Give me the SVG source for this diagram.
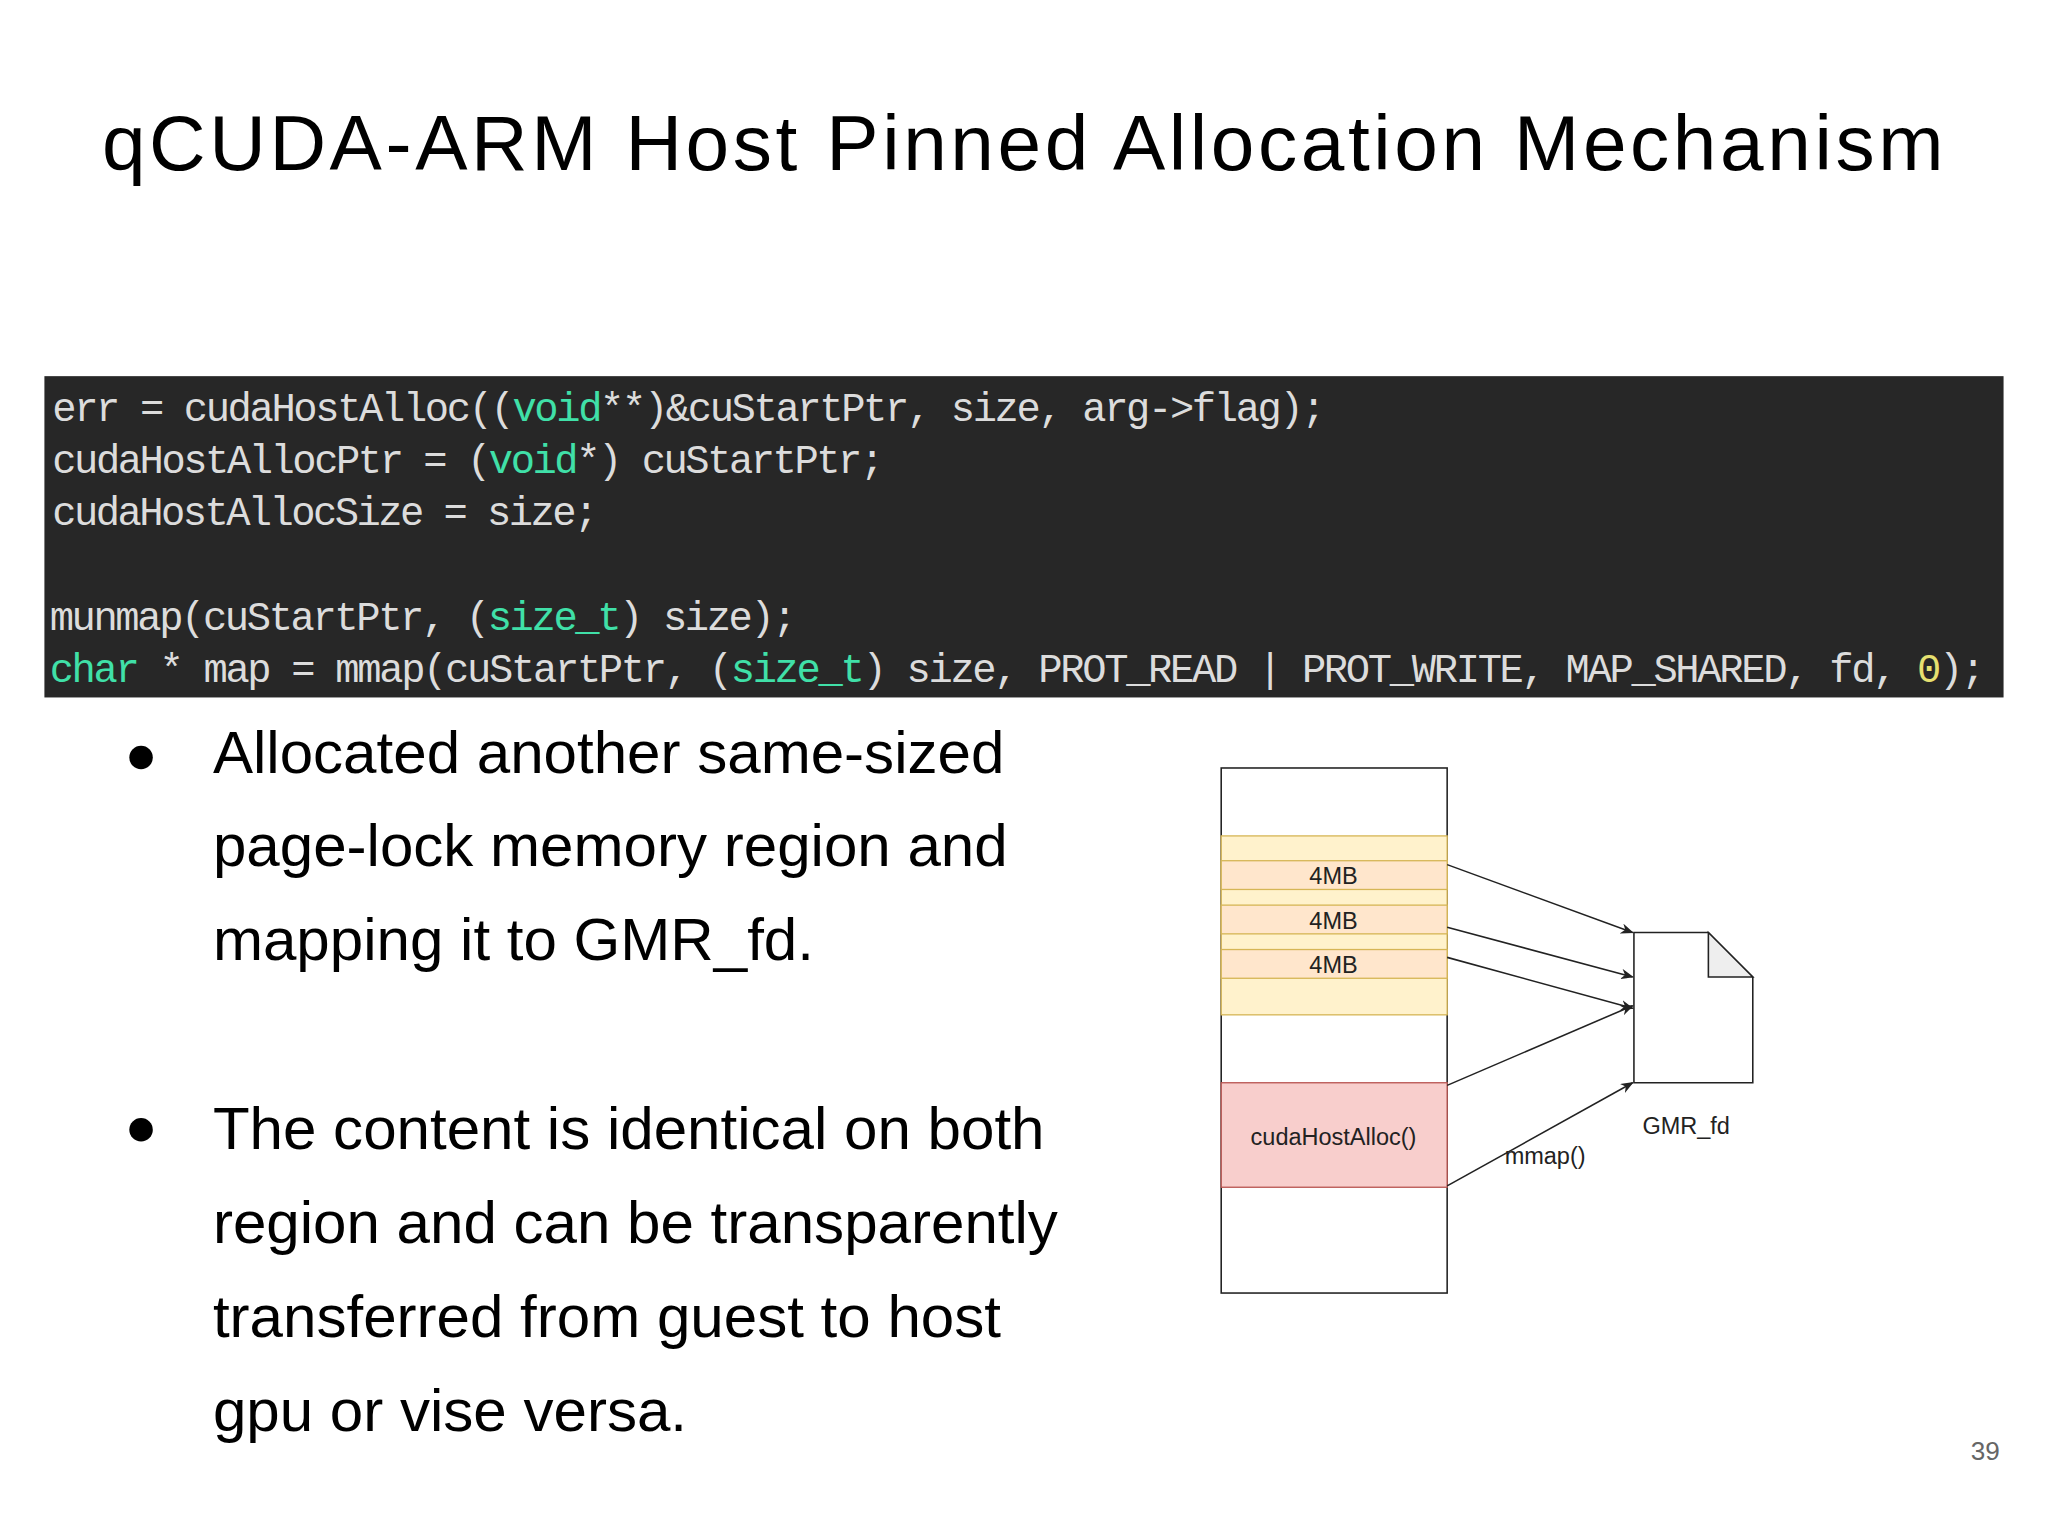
<svg xmlns="http://www.w3.org/2000/svg" width="2048" height="1536" viewBox="0 0 2048 1536">
<style>
.t{font-family:"Liberation Sans",Arial,sans-serif;fill:#000}
.code{font-family:"Liberation Mono","DejaVu Sans Mono",monospace;font-size:31px;fill:#dcdcdc}
.k{fill:#40e0a8}
.n{fill:#e6e070}
.lbl{font-family:"Liberation Sans",Arial,sans-serif;font-size:18px;fill:#222;text-anchor:middle}
.edge{stroke:#222;stroke-width:1.2;fill:none;marker-end:url(#ah)}
</style>
<defs><marker id="ah" markerWidth="10" markerHeight="8" refX="9" refY="4" orient="auto" markerUnits="userSpaceOnUse"><path d="M0,0 L10,4 L0,8 L3,4 Z" fill="#222"/></marker></defs>
<rect width="2048" height="1536" fill="#fff"/>
<g transform="scale(1.3061)">
<g id="title"><text class="t" x="783" y="130" font-size="60" text-anchor="middle" textLength="1410">qCUDA-ARM Host Pinned Allocation Mechanism</text></g>
<g id="code">
<rect x="34" y="288" width="1500" height="246" fill="#272727"/>
<text class="code" x="40" y="322" textLength="975">err = cudaHostAlloc((<tspan class="k">void</tspan>**)&amp;cuStartPtr, size, arg-&gt;flag);</text>
<text class="code" x="40" y="362" textLength="637">cudaHostAllocPtr = (<tspan class="k">void</tspan>*) cuStartPtr;</text>
<text class="code" x="40" y="402" textLength="418">cudaHostAllocSize = size;</text>
<text class="code" x="38" y="482" textLength="572">munmap(cuStartPtr, (<tspan class="k">size_t</tspan>) size);</text>
<text class="code" x="38" y="522" textLength="1482"><tspan class="k">char</tspan> * map = mmap(cuStartPtr, (<tspan class="k">size_t</tspan>) size, PROT_READ | PROT_WRITE, MAP_SHARED, fd, <tspan class="n">0</tspan>);</text>
</g>
<g id="bullets" class="t" font-size="46">
<circle cx="108" cy="580" r="9" fill="#000"/>
<text x="163" y="592">Allocated another same-sized</text>
<text x="163" y="663">page-lock memory region and</text>
<text x="163" y="735">mapping it to GMR_fd.</text>
<circle cx="108" cy="865" r="9" fill="#000"/>
<text x="163" y="880">The content is identical on both</text>
<text x="163" y="952">region and can be transparently</text>
<text x="163" y="1024">transferred from guest to host</text>
<text x="163" y="1096">gpu or vise versa.</text>
</g>
<g id="memory">
<rect x="935" y="588" width="173" height="402" fill="#fff" stroke="#222" stroke-width="1.2"/>
<rect x="935" y="640" width="173" height="137" fill="#fff2cc" stroke="#d6b656"/>
</g>
<g id="chunk1"><rect x="935" y="659" width="173" height="22" fill="#ffe6cc" stroke="#d6b656"/><text class="lbl" x="1021" y="677">4MB</text></g>
<g id="chunk2"><rect x="935" y="693" width="173" height="22" fill="#ffe6cc" stroke="#d6b656"/><text class="lbl" x="1021" y="711">4MB</text></g>
<g id="chunk3"><rect x="935" y="727" width="173" height="22" fill="#ffe6cc" stroke="#d6b656"/><text class="lbl" x="1021" y="745">4MB</text></g>
<g id="alloc"><rect x="935" y="829" width="173" height="80" fill="#f8cecc" stroke="#b85450"/><text class="lbl" x="1021" y="877">cudaHostAlloc()</text></g>
<g id="gmr"><path d="M1251,714 H1308 L1342,748 V829 H1251 Z" fill="#fff" stroke="#222" stroke-width="1.2"/><path d="M1308,714 V748 H1342 Z" fill="#eee" stroke="#222" stroke-width="1.2"/><text class="lbl" x="1291" y="868">GMR_fd</text></g>
<g id="connectors">
<line class="edge" x1="1108" y1="662" x2="1250" y2="714"/>
<line class="edge" x1="1108" y1="710" x2="1250" y2="748"/>
<line class="edge" x1="1108" y1="733" x2="1250" y2="772"/>
<line class="edge" x1="1108" y1="831" x2="1250" y2="770"/>
<line class="edge" x1="1108" y1="908" x2="1250" y2="829"/>
<text class="lbl" x="1183" y="891">mmap()</text>
</g>
<text x="1520" y="1118" font-family="Liberation Sans,Arial,sans-serif" font-size="20" fill="#666" text-anchor="middle">39</text>
</g>
</svg>
